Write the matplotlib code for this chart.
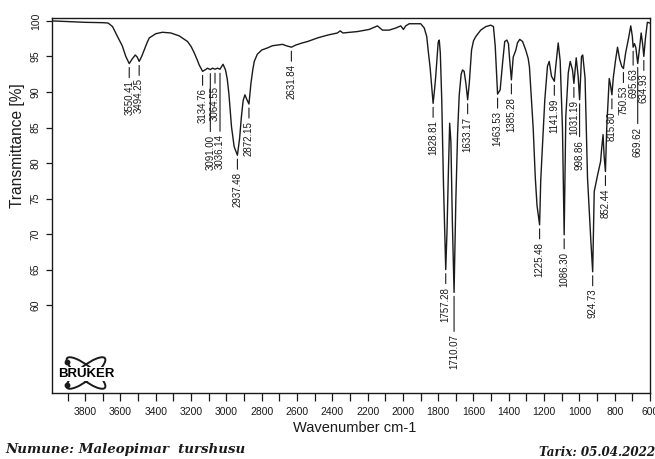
import numpy as np
import matplotlib
matplotlib.use("Agg")
import matplotlib.pyplot as plt
from matplotlib.patches import Ellipse

# ---------------- data ----------------
wavenumber = [3988, 3900, 3800, 3700, 3670, 3645, 3617, 3590, 3570, 3550.41,
              3532, 3516, 3505, 3494.25, 3480, 3466, 3450, 3437, 3400, 3362,
              3315, 3268, 3220, 3200, 3182, 3165, 3154, 3134.76, 3115, 3107,
              3091.00, 3078, 3064.55, 3050, 3036.14, 3019, 3005, 2995, 2986, 2971,
              2956, 2937.48, 2925, 2915, 2905, 2895, 2885, 2872.15, 2861, 2850,
              2842, 2825, 2800, 2767, 2740, 2710, 2682, 2660, 2631.84, 2607,
              2570, 2540, 2484, 2427, 2371, 2355, 2340, 2300, 2257, 2191,
              2144, 2130, 2116, 2078, 2040, 2012, 1997, 1984, 1964, 1899,
              1879, 1865, 1857, 1846, 1838, 1828.81, 1820, 1814, 1806, 1800,
              1794, 1788, 1780, 1770, 1757.28, 1750, 1742, 1735, 1728, 1720,
              1710.07, 1700, 1690, 1681, 1670, 1662, 1653, 1643, 1633.17, 1624,
              1611, 1600, 1587, 1559, 1530, 1502, 1487, 1477, 1463.53, 1449,
              1434, 1423, 1411, 1402, 1395, 1385.28, 1375, 1360, 1351, 1338,
              1322, 1304, 1290, 1283, 1275, 1262, 1250, 1240, 1225.48, 1219,
              1215, 1205, 1196, 1181, 1171, 1158, 1141.99, 1134, 1120, 1109,
              1100, 1096, 1086.30, 1077, 1063, 1052, 1039, 1031.19, 1018, 1007,
              998.86, 988, 981, 968, 954, 945, 935, 924.73, 916, 897,
              880, 874, 866, 860, 852.44, 845, 831, 824, 815.80, 808,
              795, 784, 772, 760, 750.53, 738, 722, 709, 700, 695.63,
              688, 680, 669.62, 660, 650, 642, 634.93, 626, 615, 600]
transmittance = [100.0, 99.9, 99.8, 99.75, 99.7, 99.2, 97.8, 96.5, 95.0, 94.0,
                 94.7, 95.2, 94.9, 94.3, 95.0, 95.9, 96.9, 97.6, 98.2, 98.4,
                 98.3, 97.9, 97.1, 96.4, 95.5, 94.5, 93.8, 92.9, 93.2, 93.35,
                 93.15, 93.35, 93.2, 93.35, 93.2, 93.9, 93.1, 91.8, 89.8, 85.1,
                 82.3, 81.1, 83.5, 86.5, 88.8, 89.6, 89.0, 88.3, 91.2, 93.2,
                 94.3, 95.3, 95.9, 96.2, 96.5, 96.6, 96.7, 96.5, 96.3, 96.6,
                 96.9, 97.1, 97.6, 98.0, 98.3, 98.6, 98.3, 98.4, 98.5, 98.8,
                 99.3, 99.0, 98.7, 98.7, 99.0, 99.3, 98.8, 99.3, 99.6, 99.6,
                 99.0, 97.8, 95.9, 93.5, 91.2, 88.4, 90.5, 92.2, 95.0, 97.0,
                 97.3, 95.5, 89.0, 77.0, 65.0, 70.5, 79.0, 85.6, 83.0, 72.0,
                 61.8, 74.8, 84.2, 89.5, 92.5, 93.1, 92.9, 91.2, 88.9, 91.2,
                 95.9, 97.2, 97.8, 98.7, 99.2, 99.4, 99.2, 96.5, 89.7, 90.3,
                 94.4, 97.1, 97.3, 96.8, 94.5, 91.7, 94.9, 95.9, 96.9, 97.4,
                 97.1, 95.9, 94.7, 93.5, 90.3, 85.0, 78.0, 74.0, 71.3, 77.6,
                 79.5, 84.5, 88.9, 93.6, 94.3, 92.2, 91.5, 93.6, 96.9, 94.4,
                 88.0, 84.9, 69.9, 86.5, 92.7, 94.3, 93.1, 91.2, 94.8, 92.2,
                 88.9, 95.0, 95.2, 92.0, 77.9, 73.7, 69.0, 64.7, 76.0, 78.3,
                 80.2, 82.0, 84.0, 81.0, 78.8, 85.0, 91.9, 91.0, 89.6, 92.0,
                 94.5, 96.3, 94.6, 93.6, 93.3, 95.5, 97.5, 99.3, 97.8, 96.3,
                 96.8, 96.2, 94.0, 96.0, 98.3, 96.8, 95.0, 97.5, 99.8, 99.7]

peak_positions = [3550.41, 3494.25, 3134.76, 3091.00, 3064.55, 3036.14, 2937.48,
                  2872.15, 2631.84, 1828.81, 1757.28, 1710.07, 1633.17, 1463.53,
                  1385.28, 1225.48, 1141.99, 1086.30, 1031.19, 998.86, 924.73,
                  852.44, 815.80, 750.53, 695.63, 669.62, 634.93]

x_tick_values = [3800, 3600, 3400, 3200, 3000, 2800, 2600, 2400, 2200, 2000,
                 1800, 1600, 1400, 1200, 1000, 800, 600]
y_tick_values = [60, 65, 70, 75, 80, 85, 90, 95, 100]

x_label = "Wavenumber cm-1"
y_label = "Transmittance [%]"
sample_text = "Numune: Maleopimar  turshusu"
date_text = "Tarix: 05.04.2022"

# ---------------- layout ----------------
W, H = 655, 459
fig = plt.figure(figsize=(W / 100, H / 100), dpi=100)
plt.rcParams['font.family'] = ['Liberation Sans', 'DejaVu Sans']

ax_l, ax_r, ax_t, ax_b = 52, 650, 17.7, 393.3
ax = fig.add_axes([ax_l / W, 1 - ax_b / H, (ax_r - ax_l) / W, (ax_b - ax_t) / H])

ink = '#1a1a1a'
ax.plot(wavenumber, transmittance, color=ink, lw=1.0)
ax.set_xlim(3988, 600)
ax.set_ylim(47.6, 100.45)

for s in ax.spines.values():
    s.set_linewidth(1.0)
    s.set_color(ink)

ax.set_xticks(x_tick_values)
ax.set_xticks(np.arange(3900, 599, -100), minor=True)
ax.tick_params(axis='x', which='both', direction='out', length=6, width=0.9,
               colors=ink, labelsize=7.5, pad=4)
ax.set_yticks(y_tick_values)
ax.tick_params(axis='y', which='major', direction='out', length=4, width=0.9,
               colors=ink, labelsize=7.5, pad=4)
for lab in ax.get_yticklabels():
    lab.set_rotation(90)
    lab.set_va('center')

fig.text(355 / W, 1 - 428 / H, x_label, ha='center', va='center',
         fontsize=10.5, color=ink)
fig.text(18 / W, 1 - 146 / H, y_label, ha='center', va='center',
         rotation=90, fontsize=11.2, color=ink)

# ---------------- peak labels ----------------
wn_arr = np.array(wavenumber)[::-1]
t_arr = np.array(transmittance)[::-1]
px2pt = 72 / 100
stagger = {3091.00: 65, 3036.14: 65, 1710.07: 42, 998.86: 40, 669.62: 63, 695.63: 21}
for p in peak_positions:
    ty = np.interp(p, wn_arr, t_arr)
    off = stagger.get(p, 17)
    # dash below the band
    ax.annotate('', xy=(p, ty), xycoords='data',
                xytext=(0, -(off - 3) * px2pt), textcoords='offset points',
                arrowprops=dict(arrowstyle='-', color=ink, lw=0.8,
                                shrinkA=0, shrinkB=4 * px2pt))
    ax.annotate(f"{p:.2f}", xy=(p, ty), xytext=(0, -off * px2pt),
                textcoords='offset points', rotation=90, ha='center', va='top',
                fontsize=7, color=ink)

# ---------------- Bruker logo ----------------
lx0, ly0, lw_, lh_ = 56, 352, 60, 41
lax = fig.add_axes([lx0 / W, 1 - (ly0 + lh_) / H, lw_ / W, lh_ / H])
lax.set_xlim(0, lw_)
lax.set_ylim(0, lh_)
lax.axis('off')
cx, cy = 30, 20
ew, eh, eang = 48, 14, 38
for ang in (eang, -eang):
    lax.add_patch(Ellipse((cx, cy), ew, eh, angle=ang, fill=False,
                          ec=ink, lw=1.4))
for ang, t in ((eang, 2.75), (-eang, 3.55)):
    a = np.deg2rad(ang)
    ex, ey = ew / 2 * np.cos(t), eh / 2 * np.sin(t)
    lax.plot(cx + ex * np.cos(a) - ey * np.sin(a),
             cy + ex * np.sin(a) + ey * np.cos(a), 'o', ms=3.2, color=ink)
lax.text(cx, cy - 1, "BRUKER", ha='center', va='center', fontsize=9.5,
         fontweight='bold', color='black',
         bbox=dict(boxstyle='square,pad=0.05', fc='white', ec='none'))

# ---------------- footer ----------------
fig.text(5 / W, 1 - 449 / H, sample_text, ha='left', va='center',
         fontsize=9.6, fontweight='bold', fontstyle='italic',
         family=['DejaVu Serif'], color=ink)
fig.text(655 / W, 1 - 452 / H, date_text, ha='right', va='center',
         fontsize=8.6, fontweight='bold', fontstyle='italic',
         family=['DejaVu Serif'], color=ink)

fig.savefig("out.png", dpi=100, facecolor='white')
